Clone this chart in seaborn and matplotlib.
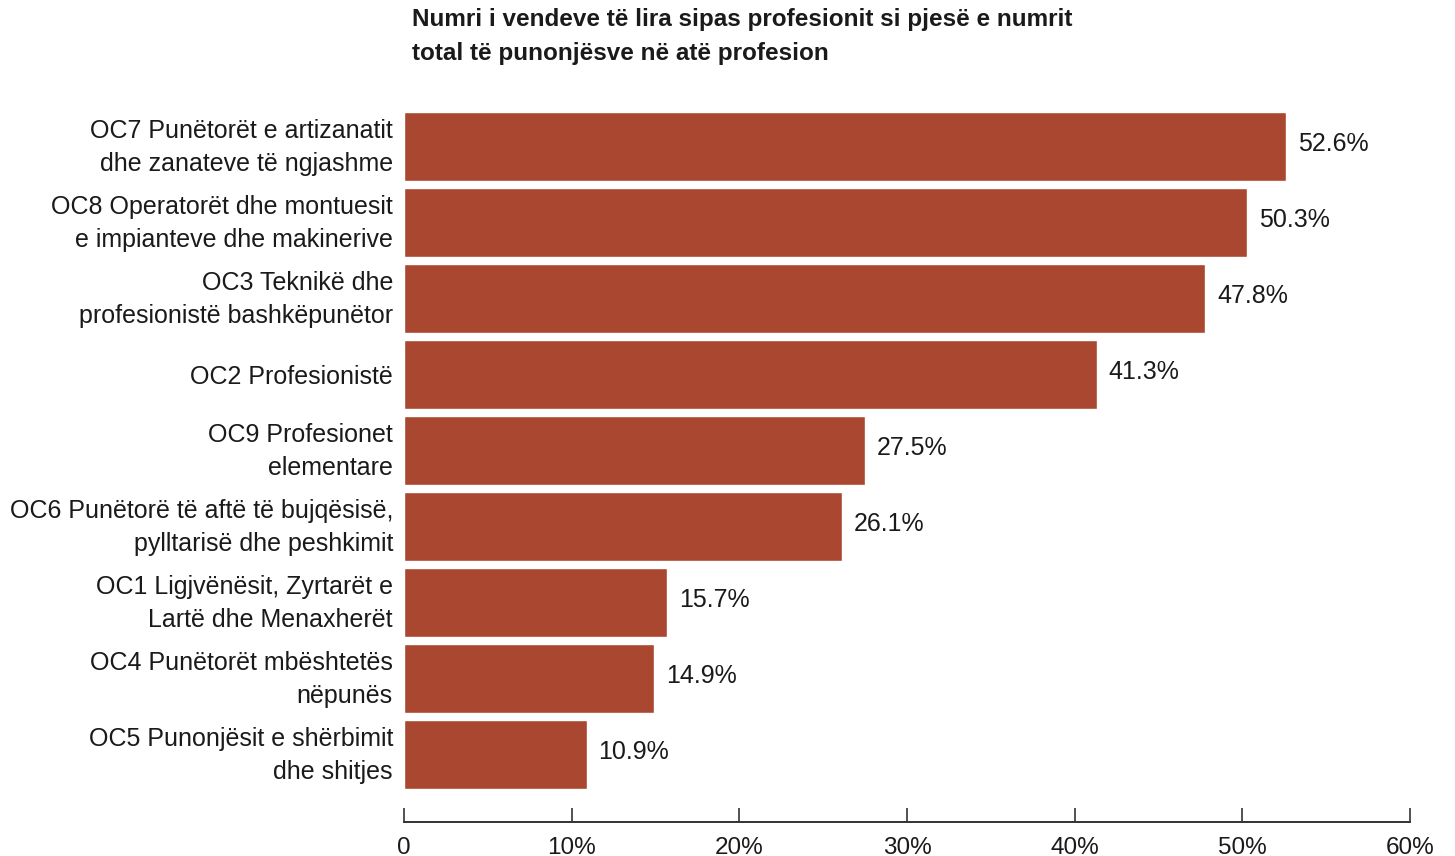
import matplotlib
matplotlib.use("Agg")
import matplotlib.pyplot as plt
from matplotlib import font_manager
import matplotlib.transforms as mtransforms
import seaborn as sns
import pandas as pd

# Occupation groups (top to bottom) and their vacancy share, in percent
categories = [
    "OC7 Punëtorët e artizanatit\ndhe zanateve të ngjashme",
    "OC8 Operatorët dhe montuesit\ne impianteve dhe makinerive",
    "OC3 Teknikë dhe\nprofesionistë bashkëpunëtor",
    "OC2 Profesionistë",
    "OC9 Profesionet\nelementare",
    "OC6 Punëtorë të aftë të bujqësisë,\npylltarisë dhe peshkimit",
    "OC1 Ligjvënësit, Zyrtarët e\nLartë dhe Menaxherët",
    "OC4 Punëtorët mbështetës\nnëpunës",
    "OC5 Punonjësit e shërbimit\ndhe shitjes",
]
values = [52.6, 50.3, 47.8, 41.3, 27.5, 26.1, 15.7, 14.9, 10.9]
x_ticks = [0, 10, 20, 30, 40, 50, 60]
x_ticklabels = ["0", "10%", "20%", "30%", "40%", "50%", "60%"]
title = ("Numri i vendeve të lira sipas profesionit si pjesë e numrit\n"
         "total të punonjësve në atë profesion")

BAR_COLOR = "#a94730"
TEXT_COLOR = "#1a1a1a"

sns.set_theme(style="white")
available = {f.name for f in font_manager.fontManager.ttflist}
narrow = "Liberation Sans Narrow" if "Liberation Sans Narrow" in available else "Liberation Sans"
plt.rcParams["font.family"] = ["Liberation Sans", "DejaVu Sans"]

df = pd.DataFrame({"category": categories, "value": values})

fig = plt.figure(figsize=(14.55, 8.56), dpi=100)
ax = fig.add_axes([0.2777, 0.0397, 0.6914, 0.8336])

sns.barplot(data=df, x="value", y="category", orient="h", color=BAR_COLOR,
            width=0.9, saturation=1, ax=ax)

ax.set_xlim(0, 60)
ax.set_ylim(8.89, -0.5)
ax.set_xlabel("")
ax.set_ylabel("")

ax.set_xticks(x_ticks)
ax.set_xticklabels(x_ticklabels, fontsize=17.5, color=TEXT_COLOR, family=[narrow, "DejaVu Sans"])
ax.tick_params(axis="x", direction="in", length=10, width=1.2, color="#333333",
               pad=10.5, bottom=True)
ax.tick_params(axis="y", length=0, pad=8)

# two-line labels sit a little higher so the block is centred on the bar
lift = mtransforms.ScaledTranslation(0, 4.5 / 72, fig.dpi_scale_trans)
for lbl in ax.get_yticklabels():
    lbl.set_fontsize(18)
    lbl.set_color(TEXT_COLOR)
    lbl.set_linespacing(1.48)
    lbl.set_horizontalalignment("right")
    lbl.set_multialignment("right")
    if "\n" in lbl.get_text():
        lbl.set_transform(lbl.get_transform() + lift)

for side in ("top", "right", "left"):
    ax.spines[side].set_visible(False)
ax.spines["bottom"].set_color("#333333")
ax.spines["bottom"].set_linewidth(1.4)

for i, v in enumerate(values):
    ax.annotate(f"{v:.1f}%", xy=(v, i), xytext=(8.5, 2), textcoords="offset points",
                ha="left", va="center", fontsize=18, color=TEXT_COLOR)

fig.text(412 / 1455, 1 - 8 / 856, title, ha="left", va="top", fontsize=17.5,
         fontweight="bold", color=TEXT_COLOR, linespacing=1.62,
         family=[narrow, "DejaVu Sans"])

fig.savefig("out.png", dpi=100)
